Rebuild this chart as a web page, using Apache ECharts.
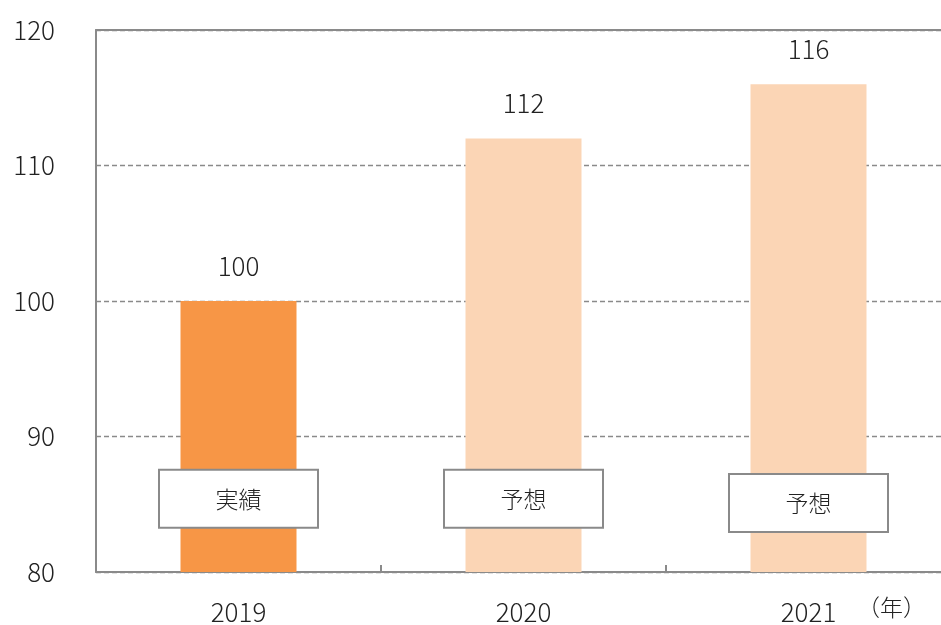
<!DOCTYPE html>
<html>
<head>
<meta charset="utf-8">
<script src="https://cdn.jsdelivr.net/npm/echarts@6/dist/echarts.min.js"></script>
<style>
  html, body { margin: 0; padding: 0; background: #fff; }
  #chart { width: 941px; height: 625px; }
</style>
</head>
<body>
<div id="chart"></div>
<script>
// 年度と指数
const years = ['2019', '2020', '2021']
const values = [100, 112, 116]
const barColors = ['#F79646', '#FBD5B5', '#FBD5B5']
// 実績／予想の札（縦位置は値軸の目盛で指定）
const tags = ['実績', '予想', '予想']
const tagLevels = [85.4, 85.4, 85.1]
const yTicks = { min: 80, max: 120, step: 10 }

const font = '"Noto Sans CJK JP", "Noto Sans", sans-serif'
const chart = echarts.init(document.getElementById('chart'))

chart.setOption({
  backgroundColor: '#ffffff',
  animation: false,
  textStyle: { fontFamily: font },
  // 右端はキャンバスの外まで伸びている
  grid: { left: 96, width: 855, top: 30, bottom: 53, containLabel: false, outerBoundsMode: 'none' },
  xAxis: [
    {
      type: 'category',
      data: years,
      axisLine: { lineStyle: { color: '#8a8a8a', width: 2 } },
      axisTick: { show: true, inside: true, length: 7, lineStyle: { color: '#8a8a8a', width: 2 } },
      axisLabel: { color: '#222', fontSize: 26, fontWeight: 300, margin: 27, fontFamily: font }
    },
    {
      // 上辺の枠線
      type: 'category',
      data: years,
      position: 'top',
      axisLine: { lineStyle: { color: '#8a8a8a', width: 2 } },
      axisTick: { show: false },
      axisLabel: { show: false }
    }
  ],
  yAxis: {
    type: 'value',
    min: yTicks.min,
    max: yTicks.max,
    interval: yTicks.step,
    axisLine: { show: true, lineStyle: { color: '#8a8a8a', width: 2 } },
    axisTick: { show: false },
    axisLabel: { color: '#222', fontSize: 26, fontWeight: 300, margin: 41, fontFamily: font },
    splitLine: { show: true, lineStyle: { color: '#8a8a8a', type: [5, 3], width: 1.3 } }
  },
  series: [
    {
      type: 'bar',
      barWidth: 116,
      data: values.map((v, i) => ({ value: v, itemStyle: { color: barColors[i] } })),
      label: {
        show: true,
        position: 'top',
        distance: 22,
        color: '#222',
        fontSize: 26,
        fontWeight: 300,
        fontFamily: font
      }
    },
    {
      type: 'scatter',
      symbol: 'circle',
      symbolSize: 1,
      itemStyle: { color: 'rgba(0,0,0,0)', opacity: 1 },
      emphasis: { disabled: true },
      data: tagLevels.map((v, i) => [i, v]),
      label: {
        show: true,
        position: 'inside',
        formatter: p => tags[p.dataIndex],
        color: '#222',
        fontSize: 23,
        fontWeight: 300,
        fontFamily: font,
        width: 157,
        height: 56,
        lineHeight: 56,
        align: 'center',
        verticalAlign: 'middle',
        backgroundColor: '#ffffff',
        borderColor: '#8a8a8a',
        borderWidth: 2
      },
      z: 5
    }
  ],
  graphic: [
    {
      type: 'text',
      left: 857,
      top: 596,
      style: { text: '（年）', fill: '#222', font: '300 23px ' + font }
    }
  ]
})
</script>
</body>
</html>
